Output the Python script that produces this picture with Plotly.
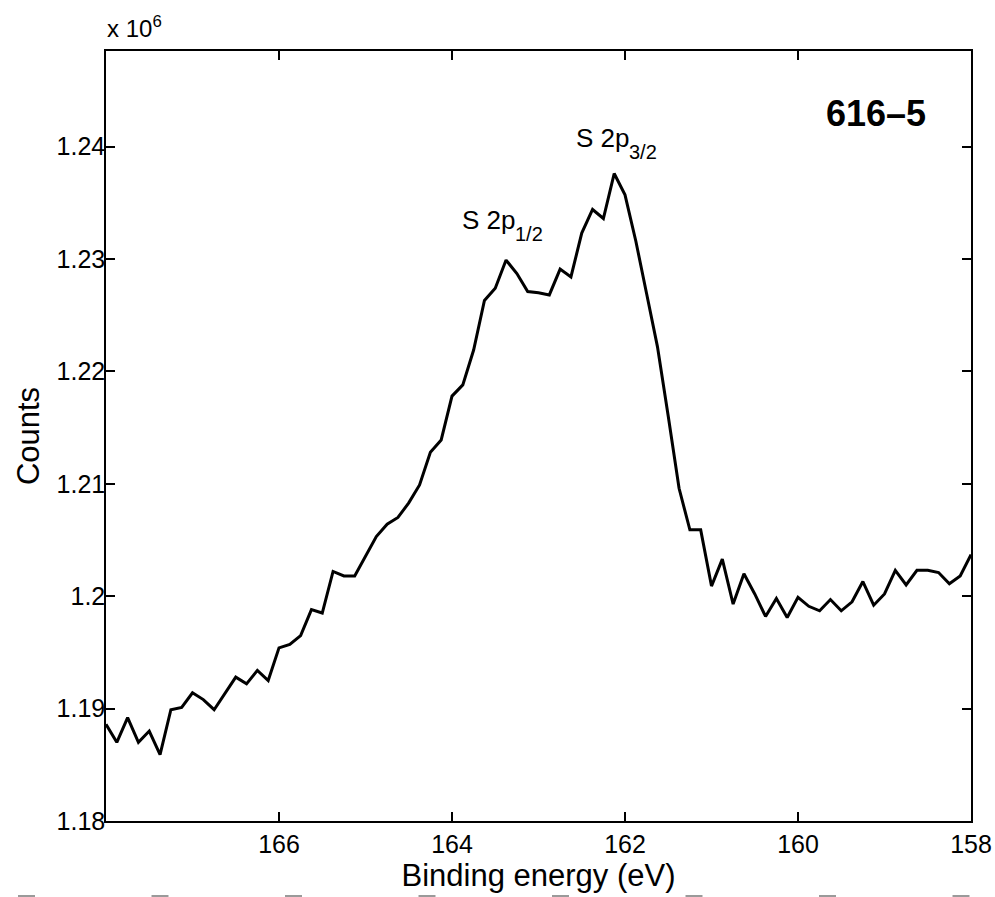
import numpy as np
import plotly.graph_objects as go

# S 2p region, binding energy scan from 168 eV down to 158 eV in 0.125 eV steps
energy_start = 168.0
energy_step = 0.125
counts_e6 = [
    1.1886, 1.1870, 1.1892, 1.1870, 1.1880, 1.1859, 1.1899, 1.1901, 1.1914, 1.1908,
    1.1899, 1.1913, 1.1928, 1.1922, 1.1934, 1.1925, 1.1954, 1.1957, 1.1965, 1.1988,
    1.1985, 1.2022, 1.2018, 1.2018, 1.2035, 1.2053, 1.2064, 1.2070, 1.2083, 1.2099,
    1.2128, 1.2139, 1.2178, 1.2188, 1.2219, 1.2263, 1.2274, 1.2299, 1.2287, 1.2271,
    1.2270, 1.2268, 1.2291, 1.2284, 1.2323, 1.2344, 1.2336, 1.2376, 1.2357, 1.2316,
    1.2269, 1.2222, 1.2160, 1.2096, 1.2059, 1.2059, 1.2009, 1.2033, 1.1993, 1.2020,
    1.2002, 1.1982, 1.1998, 1.1981, 1.1999, 1.1991, 1.1987, 1.1997, 1.1987, 1.1995,
    1.2013, 1.1992, 1.2002, 1.2023, 1.2010, 1.2023, 1.2023, 1.2021, 1.2011, 1.2018,
    1.2037,
]
energy = [energy_start - energy_step * i for i in range(len(counts_e6))]

x_ticks = [166, 164, 162, 160, 158]
y_ticks = [1.18, 1.19, 1.20, 1.21, 1.22, 1.23, 1.24]
y_tick_labels = ["1.18", "1.19", "1.2", "1.21", "1.22", "1.23", "1.24"]

peak_names = ["S 2p", "S 2p"]
peak_subs = ["3/2", "1/2"]
peak_label_x = [162.555, 163.873]
peak_label_y = [1.2408, 1.2335]
sample_name = "616\u20135"

FONT = "Liberation Sans, Arial, Helvetica, sans-serif"
W, H = 995, 897
ML, MR, MT, MB = 106, 24, 51, 76
PW, PH = W - ML - MR, H - MT - MB


def px_to_paper(px, py):
    return (px - ML) / PW, (H - MB - py) / PH


fig = go.Figure()
fig.add_trace(go.Scatter(
    x=energy, y=counts_e6, mode="lines",
    line=dict(color="black", width=3),
    showlegend=False, hoverinfo="skip",
))

axis_common = dict(
    showline=True, linecolor="black", linewidth=1.5, mirror="ticks",
    ticks="inside", ticklen=9, tickwidth=1.5, tickcolor="black",
    showgrid=False, zeroline=False, automargin=False,
    tickfont=dict(family=FONT, size=25, color="black"),
)

fig.update_layout(
    width=W, height=H,
    margin=dict(l=ML, r=MR, t=MT, b=MB),
    paper_bgcolor="white", plot_bgcolor="white",
    font=dict(family=FONT, color="black"),
    xaxis=dict(
        range=[168, 158], tickvals=x_ticks, ticktext=[str(v) for v in x_ticks],
        title=dict(text="Binding energy (eV)", font=dict(family=FONT, size=31), standoff=6),
        **axis_common,
    ),
    yaxis=dict(
        range=[1.18, 1.2485], tickvals=y_ticks, ticktext=y_tick_labels,
        ticklabelstandoff=-6,
        title=dict(text="Counts", font=dict(family=FONT, size=31), standoff=8),
        **axis_common,
    ),
)

# peak labels: main text plus a separately placed, lowered subscript
MAIN_SIZE, SUB_SIZE = 26, 20
for name, sub, lx, ly in zip(peak_names, peak_subs, peak_label_x, peak_label_y):
    fig.add_annotation(x=lx, y=ly, xref="x", yref="y", text=name,
                       showarrow=False, xanchor="left", yanchor="middle", xshift=-3,
                       font=dict(family=FONT, size=MAIN_SIZE, color="black"))
    fig.add_annotation(x=lx, y=ly, xref="x", yref="y", text=sub,
                       showarrow=False, xanchor="left", yanchor="middle",
                       xshift=50, yshift=-14,
                       font=dict(family=FONT, size=SUB_SIZE, color="black"))

sx, sy = px_to_paper(876, 113)
fig.add_annotation(x=sx, y=sy, xref="paper", yref="paper", text="<b>" + sample_name + "</b>",
                   showarrow=False, xanchor="center", yanchor="middle",
                   font=dict(family=FONT, size=36, color="black"))

ex, ey = px_to_paper(105, 44)
fig.add_annotation(x=ex, y=ey, xref="paper", yref="paper", text="x 10<sup>6</sup>",
                   showarrow=False, xanchor="left", yanchor="bottom",
                   font=dict(family=FONT, size=24, color="black"))

# light grey marks along the bottom edge of the page
for k in range(8):
    x0 = 18 + 133.5 * k
    p0 = px_to_paper(x0, 896)
    p1 = px_to_paper(x0 + 17, 896)
    fig.add_shape(type="line", xref="paper", yref="paper",
                  x0=p0[0], y0=p0[1], x1=p1[0], y1=p1[1],
                  line=dict(color="#9a9a9a", width=2))

fig.write_html("out.html")
